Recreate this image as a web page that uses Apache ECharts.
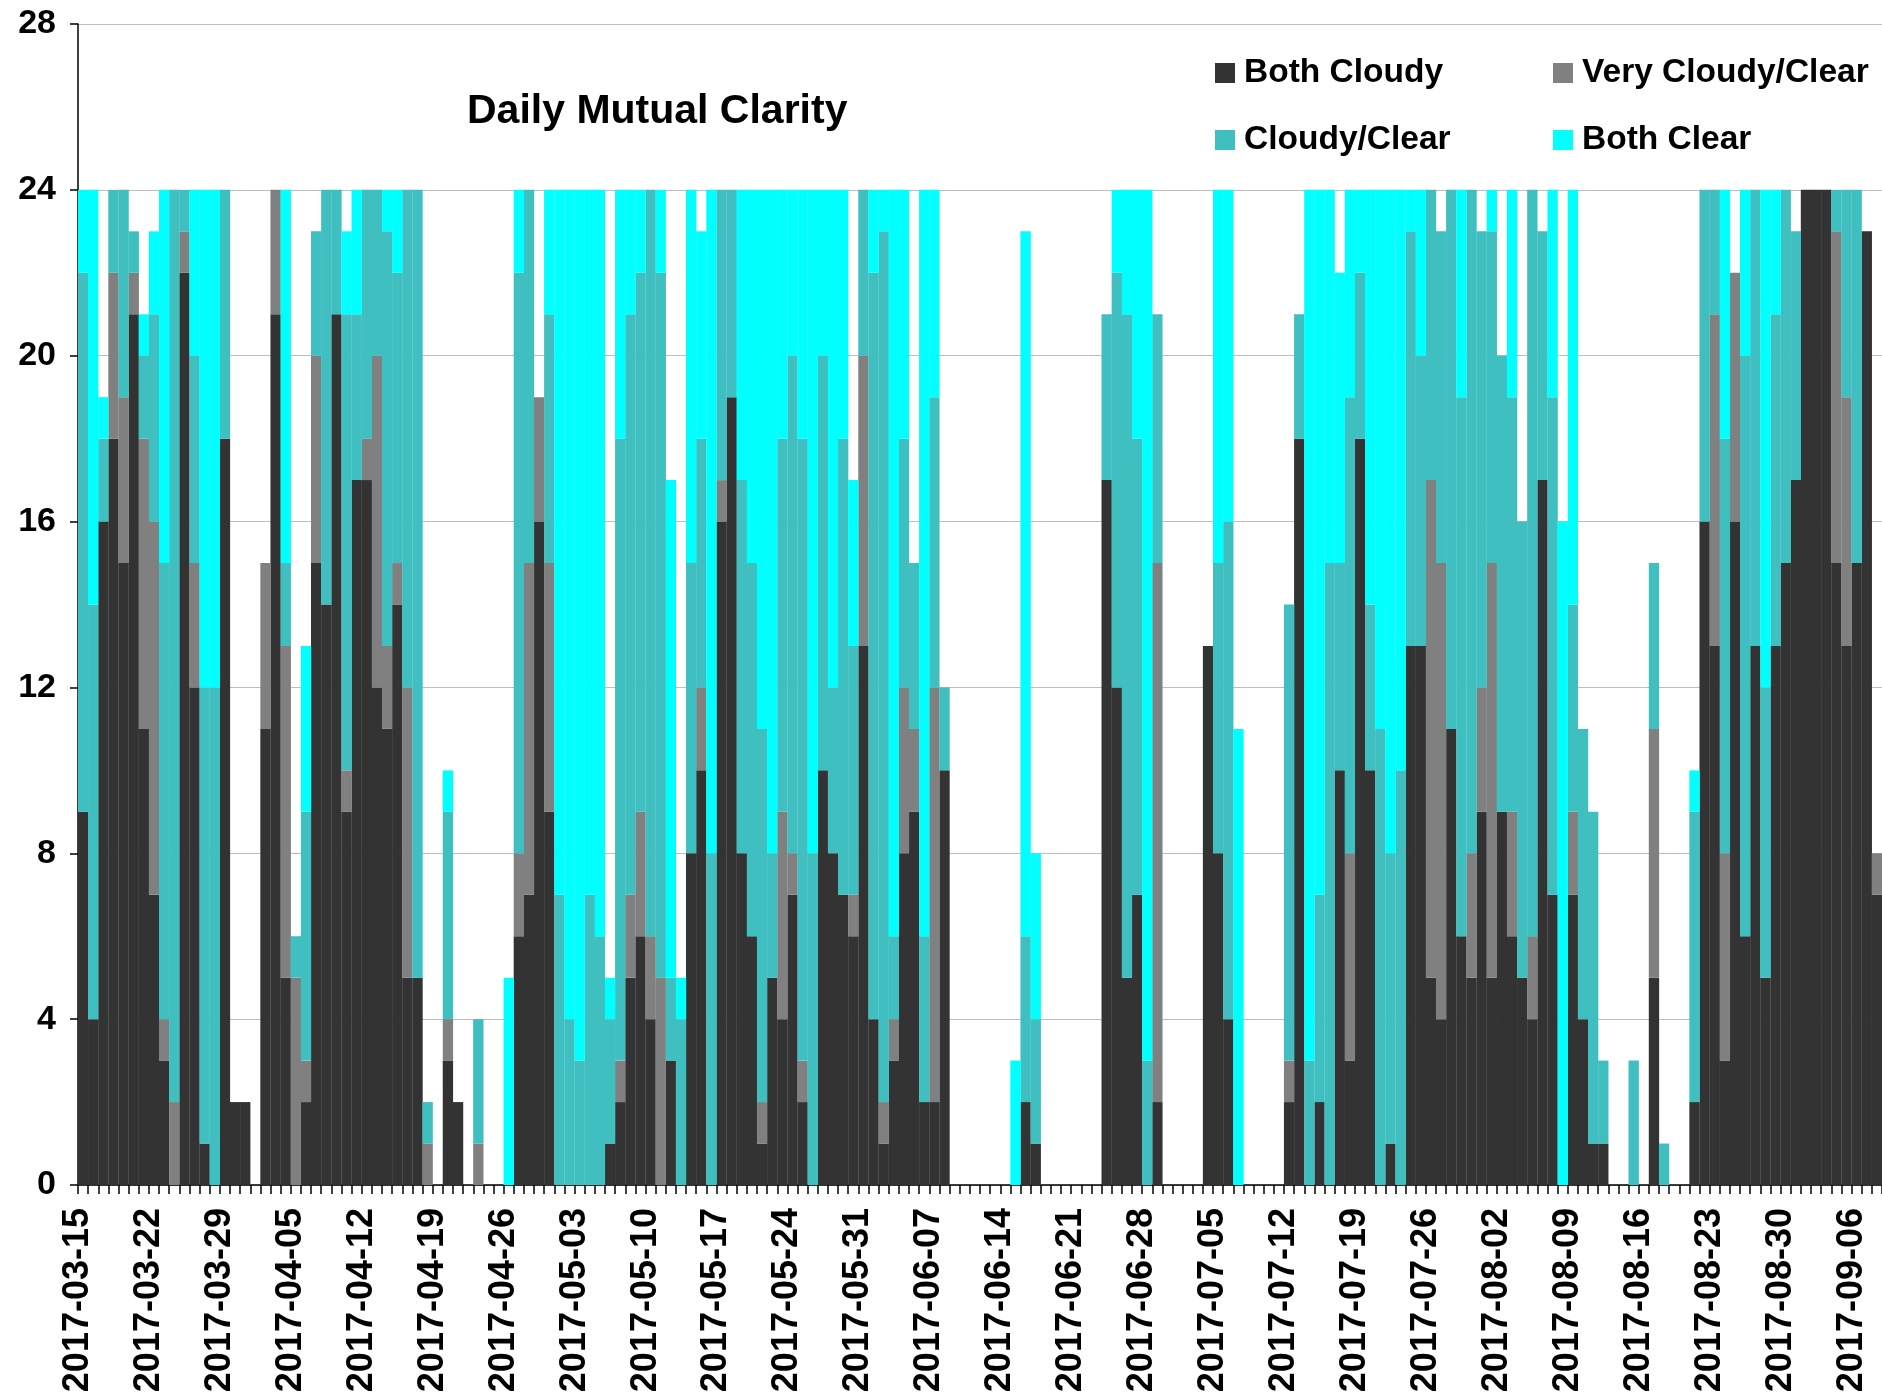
<!DOCTYPE html>
<html><head><meta charset="utf-8">
<script src="https://cdn.jsdelivr.net/npm/echarts@6/dist/echarts.min.js"></script>
<style>html,body{margin:0;padding:0;background:#fff}#c{width:1882px;height:1397px}</style>
</head><body><div id="c"></div>
<script>
// ---- data ----
const startDate = '2017-03-15';
const dayCount = 178;
const seriesNames = ['Both Cloudy', 'Very Cloudy/Clear', 'Cloudy/Clear', 'Both Clear'];
const bothCloudy = [
  9,4,16,18,15,21,11,7,3,0,
  22,12,1,0,18,2,2,0,11,21,
  5,0,2,15,14,21,9,17,17,12,
  11,14,5,5,0,0,3,2,0,0,
  0,0,0,6,7,16,9,0,0,0,
  0,0,1,2,5,6,4,0,3,0,
  8,10,0,16,19,8,6,1,5,4,
  7,2,0,10,8,7,6,13,4,1,
  3,8,9,2,2,10,0,0,0,0,
  0,0,0,2,1,0,0,0,0,0,
  0,17,12,5,7,0,2,0,0,0,
  0,13,8,4,0,0,0,0,0,2,
  18,0,2,0,10,3,18,10,0,1,
  0,13,13,5,4,11,6,5,9,5,
  9,6,5,4,17,7,0,7,4,1,
  1,0,0,0,0,5,0,0,0,2,
  16,13,3,16,6,13,5,13,15,17,
  24,24,24,15,13,15,23,7
];
const veryCloudyClear = [
  0,0,0,4,4,1,7,9,1,2,
  1,3,0,0,0,0,0,0,4,3,
  8,5,1,5,0,0,1,0,1,8,
  2,1,7,0,1,0,1,0,0,1,
  0,0,0,2,8,3,6,0,0,0,
  0,0,0,1,2,3,2,5,0,0,
  0,2,0,1,0,0,0,1,0,5,
  1,1,0,0,0,0,1,7,0,1,
  1,4,2,0,10,0,0,0,0,0,
  0,0,0,0,0,0,0,0,0,0,
  0,0,0,0,0,0,13,0,0,0,
  0,0,0,0,0,0,0,0,0,1,
  0,0,0,0,0,5,0,0,0,0,
  0,0,0,12,11,0,0,3,3,10,
  0,3,0,2,0,0,0,2,0,0,
  0,0,0,0,0,6,0,0,0,0,
  0,8,5,6,0,0,0,0,0,0,
  0,0,0,8,6,0,0,1
];
const cloudyClear = [
  13,10,2,2,5,1,2,5,11,22,
  1,5,11,12,6,0,0,0,0,0,
  2,1,6,3,10,3,11,4,6,4,
  10,7,12,19,1,0,5,0,0,3,
  0,0,0,14,9,0,6,7,4,3,
  7,6,3,15,14,13,18,17,2,4,
  7,6,8,7,5,9,9,9,3,9,
  12,15,8,10,4,11,6,4,18,21,
  2,6,4,4,7,2,0,0,0,0,
  0,0,0,4,3,0,0,0,0,0,
  0,4,10,16,11,3,6,0,0,0,
  0,0,7,12,0,0,0,0,0,11,
  3,3,5,15,5,11,4,4,11,7,
  10,10,7,7,8,13,13,16,11,8,
  11,10,11,18,6,12,0,5,7,8,
  2,0,0,3,0,4,1,0,0,7,
  8,3,10,0,14,11,7,8,9,6,
  0,0,0,1,5,9,0,0
];
const bothClear = [
  2,10,1,0,0,0,1,2,9,0,
  0,4,12,12,0,0,0,0,0,0,
  9,0,4,0,0,0,2,3,0,0,
  1,2,0,0,0,0,1,0,0,0,
  0,0,5,2,0,0,3,17,20,21,
  17,18,1,6,3,2,0,2,12,1,
  9,5,16,0,0,7,9,13,16,6,
  4,6,16,4,12,6,4,0,2,1,
  18,6,0,18,5,0,0,0,0,0,
  0,0,3,17,4,0,0,0,0,0,
  0,0,2,3,6,21,0,0,0,0,
  0,0,9,8,11,0,0,0,0,0,
  0,21,17,9,7,5,2,10,13,16,
  14,1,4,0,0,0,5,0,0,1,
  0,5,0,0,0,5,16,10,0,0,
  0,0,0,0,0,0,0,0,0,1,
  0,0,6,0,4,0,12,3,0,0,
  0,0,0,0,0,0,0,0
];
const yMin = 0, yMax = 28, yStep = 4;

// categories: consecutive days from startDate
const categories = [];
{
  const d0 = new Date(startDate + 'T00:00:00Z');
  for (let i = 0; i < dayCount; i++) {
    const d = new Date(d0.getTime() + i * 86400000);
    categories.push(d.toISOString().slice(0, 10));
  }
}

// ---- style ----
const FONT = '"Liberation Sans", Arial, sans-serif';
const colors = ['#333333', '#808080', '#3FBFBF', '#00FFFF'];
const seriesData = [bothCloudy, veryCloudyClear, cloudyClear, bothClear];

const chart = echarts.init(document.getElementById('c'), null, {renderer: 'canvas'});

function legendAt(name, left, top) {
  return {
    data: [name], left: left, top: top, icon: 'rect',
    itemWidth: 20, itemHeight: 20, itemGap: 0, selectedMode: false,
    textStyle: {fontFamily: FONT, fontSize: 33.5, fontWeight: 'bold', color: '#000', padding: [0, 0, 0, 4]}
  };
}

chart.setOption({
  animation: false,
  backgroundColor: '#ffffff',
  title: {
    text: 'Daily Mutual Clarity', left: 462, top: 86,
    textStyle: {fontFamily: FONT, fontSize: 41, fontWeight: 'bold', color: '#000'}
  },
  legend: [
    legendAt(seriesNames[0], 1210, 51),
    legendAt(seriesNames[1], 1548, 51),
    legendAt(seriesNames[2], 1210, 118),
    legendAt(seriesNames[3], 1548, 118)
  ],
  grid: {left: 78, right: 0, top: 24, bottom: 212, containLabel: false, outerBoundsMode: 'none'},
  xAxis: {
    type: 'category', data: categories, boundaryGap: true,
    axisLine: {lineStyle: {color: '#000', width: 1.5}},
    axisTick: {show: true, interval: 0, length: 9, lineStyle: {color: '#000', width: 1.5}},
    axisLabel: {
      interval: 6, rotate: 90, margin: 23, color: '#000',
      fontFamily: FONT, fontSize: 36, fontWeight: 'bold',
      formatter: v => '{s|' + v + '}',
      rich: {s: {fontFamily: FONT, fontSize: 36, fontWeight: 'bold', color: '#000', padding: [0, 0, 10, 0]}}
    },
    splitLine: {show: false}
  },
  yAxis: {
    type: 'value', min: yMin, max: yMax, interval: yStep,
    axisLine: {show: true, lineStyle: {color: '#000', width: 1.5}},
    axisTick: {show: true, length: 8, lineStyle: {color: '#000', width: 1.5}},
    axisLabel: {color: '#000', fontFamily: FONT, fontSize: 34, fontWeight: 'bold', margin: 22},
    splitLine: {show: true, lineStyle: {color: '#BEBEBE', width: 1}}
  },
  series: seriesNames.map((n, k) => ({
    name: n, type: 'bar', stack: 'clarity', data: seriesData[k],
    barWidth: '102%',
    itemStyle: {color: colors[k]},
    emphasis: {disabled: true}
  }))
});
</script>
</body></html>
